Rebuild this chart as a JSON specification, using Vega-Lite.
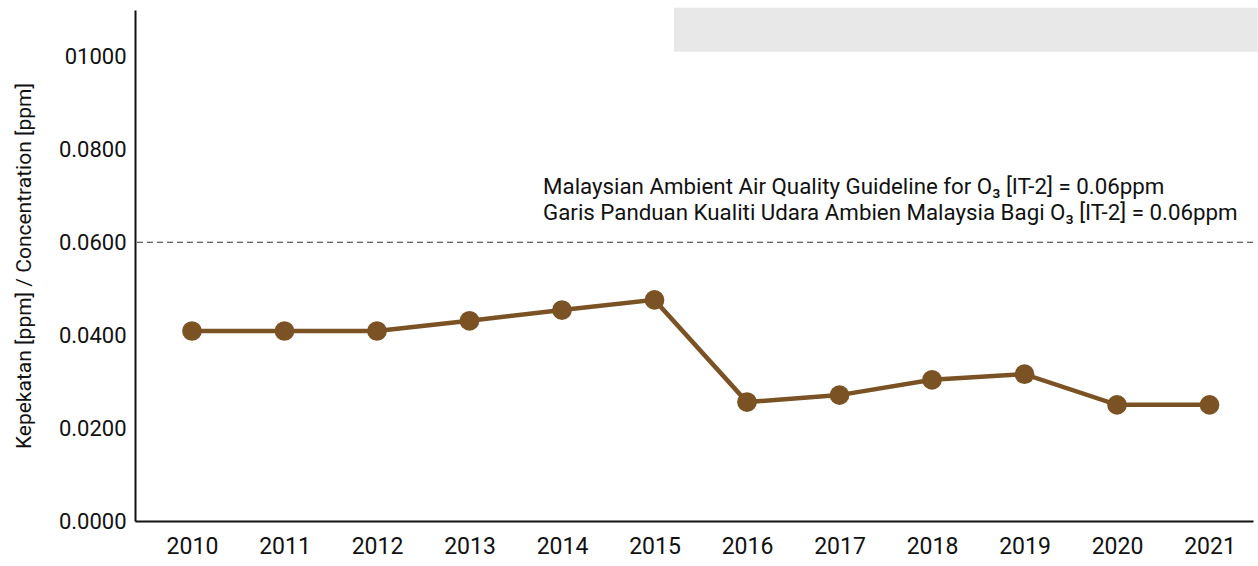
{
  "$schema": "https://vega.github.io/schema/vega-lite/v6.json",
  "autosize": {"type": "none"},
  "width": 1118,
  "height": 511,
  "padding": {"left": 135, "top": 10, "right": 5, "bottom": 45},
  "background": "white",
  "config": {
    "view": {"stroke": null},
    "font": "Roboto",
    "axis": {"labelFont": "Roboto", "titleFont": "Roboto", "labelColor": "#111", "titleColor": "#111"}
  },
  "datasets": {
    "o3": [
      {"year": 2010, "value": 0.0409},
      {"year": 2011, "value": 0.0409},
      {"year": 2012, "value": 0.0409},
      {"year": 2013, "value": 0.0431},
      {"year": 2014, "value": 0.0454},
      {"year": 2015, "value": 0.0476},
      {"year": 2016, "value": 0.0256},
      {"year": 2017, "value": 0.0271},
      {"year": 2018, "value": 0.0304},
      {"year": 2019, "value": 0.0316},
      {"year": 2020, "value": 0.0250},
      {"year": 2021, "value": 0.0250}
    ],
    "box": [{"x1": 2015.21, "x2": 2021.52, "y1": 0.101, "y2": 0.1105}],
    "guide": [{"y": 0.06, "label": ["Malaysian Ambient Air Quality Guideline for O₃ [IT-2] = 0.06ppm", "Garis Panduan Kualiti Udara Ambien Malaysia Bagi O₃ [IT-2] = 0.06ppm"], "xpos": 2013.795}]
  },
  "layer": [
    {
      "data": {"name": "box"},
      "mark": {"type": "rect", "fill": "#e8e8e8", "clip": false},
      "encoding": {
        "x": {"field": "x1", "type": "quantitative"},
        "x2": {"field": "x2"},
        "y": {"field": "y1", "type": "quantitative"},
        "y2": {"field": "y2"}
      }
    },
    {
      "data": {"name": "guide"},
      "mark": {"type": "rule", "strokeDash": [6, 4], "stroke": "#333", "strokeWidth": 1.2},
      "encoding": {
        "y": {"field": "y", "type": "quantitative"}
      }
    },
    {
      "data": {"name": "guide"},
      "mark": {"type": "text", "align": "left", "baseline": "alphabetic", "dy": -48, "fontSize": 22.3, "lineHeight": 26, "color": "#111", "font": "Roboto"},
      "encoding": {
        "x": {"field": "xpos", "type": "quantitative"},
        "y": {"field": "y", "type": "quantitative"},
        "text": {"field": "label"}
      }
    },
    {
      "data": {"name": "o3"},
      "mark": {"type": "line", "color": "#7a5224", "strokeWidth": 4.5},
      "encoding": {
        "x": {
          "field": "year", "type": "quantitative",
          "scale": {"domain": [2009.384, 2021.47], "nice": false, "zero": false},
          "axis": {"values": [2010, 2011, 2012, 2013, 2014, 2015, 2016, 2017, 2018, 2019, 2020, 2021], "format": "d", "title": null, "grid": false, "ticks": false, "domainColor": "#111", "domainWidth": 2, "labelFontSize": 23, "labelPadding": 14, "labelFlush": false}
        },
        "y": {
          "field": "value", "type": "quantitative",
          "scale": {"domain": [0, 0.11], "nice": false},
          "axis": {"values": [0, 0.02, 0.04, 0.06, 0.08, 0.1], "labelExpr": "datum.value >= 0.099 ? '01000' : format(datum.value, '.4f')", "title": "Kepekatan [ppm] / Concentration [ppm]", "titleFontSize": 21, "titleFontWeight": "normal", "titlePadding": 24, "grid": false, "ticks": false, "domainColor": "#111", "domainWidth": 2, "labelFontSize": 22, "labelPadding": 9}
        }
      }
    },
    {
      "data": {"name": "o3"},
      "mark": {"type": "circle", "color": "#7a5224", "size": 390, "opacity": 1},
      "encoding": {
        "x": {"field": "year", "type": "quantitative"},
        "y": {"field": "value", "type": "quantitative"}
      }
    }
  ]
}
